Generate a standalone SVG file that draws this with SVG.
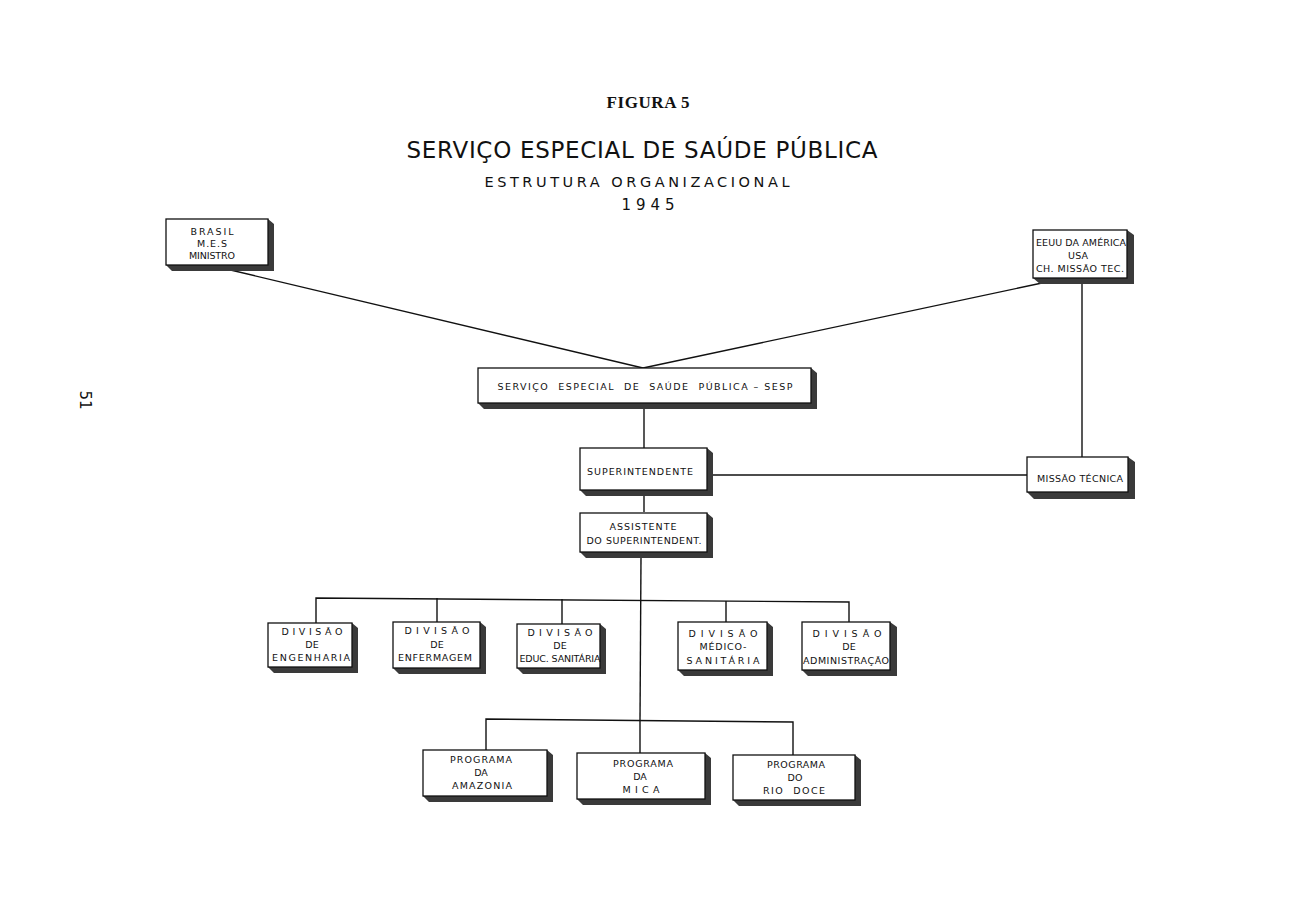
<svg xmlns="http://www.w3.org/2000/svg" width="1290" height="911" viewBox="0 0 1290 911" xml:space="preserve">
<style>
.box{fill:#fff;stroke:#111;stroke-width:1.3}
.sh{fill:#3a3a3a}
.t{font-family:"DejaVu Sans","Liberation Sans",sans-serif;font-size:9.5px;fill:#111;text-anchor:middle;white-space:pre}
.ln{stroke:#111;stroke-width:1.4;fill:none}
</style>
<rect width="1290" height="911" fill="#fff"/>
<text x="648" y="108" font-family="Liberation Serif, serif" font-weight="bold" font-size="17" text-anchor="middle" fill="#111" textLength="83">FIGURA 5</text>
<text x="642" y="158" font-family="DejaVu Sans, sans-serif" font-size="23" text-anchor="middle" fill="#111" textLength="471">SERVIÇO ESPECIAL DE SAÚDE PÚBLICA</text>
<text x="637" y="187" font-family="DejaVu Sans, sans-serif" font-size="14.5" text-anchor="middle" fill="#111" textLength="305">ESTRUTURA  ORGANIZACIONAL</text>
<text x="648" y="210" font-family="DejaVu Sans, sans-serif" font-size="15" text-anchor="middle" fill="#111" textLength="53">1945</text>
<text x="80" y="400" transform="rotate(90 80 400)" font-family="DejaVu Sans, sans-serif" font-size="15" text-anchor="middle" fill="#111">51</text>

<g id="connectors">
<line class="ln" x1="222" y1="268" x2="643" y2="368"/>
<line class="ln" x1="1042" y1="283" x2="643" y2="368"/>
<line class="ln" x1="1082" y1="283" x2="1082" y2="457"/>
<line class="ln" x1="644" y1="408" x2="644" y2="448"/>
<line class="ln" x1="712" y1="475" x2="1027" y2="475"/>
<line class="ln" x1="644" y1="495" x2="644" y2="512"/>
<line class="ln" x1="641" y1="557" x2="640" y2="720"/>
<polyline class="ln" points="316,623 316,598 849,602 849,622"/>
<line class="ln" x1="437" y1="598" x2="437" y2="622"/>
<line class="ln" x1="562" y1="599" x2="562" y2="624"/>
<line class="ln" x1="726" y1="601" x2="726" y2="622"/>
<polyline class="ln" points="486,750 486,719 793,722 793,755"/>
<line class="ln" x1="640" y1="720" x2="640" y2="753"/>
</g>

<g id="brasil"><polygon class="sh" points="268,219 274,224 274,271 172,271 166,265 268,265"/><rect class="box" x="166" y="219" width="102" height="46"/>
<text class="t" x="212" y="235" textLength="43">BRASIL</text><text class="t" x="212" y="247" textLength="30">M.E.S</text><text class="t" x="212" y="259" textLength="46">MINISTRO</text></g>

<g id="eeuu"><polygon class="sh" points="1127,230 1134,235 1134,284 1040,284 1033,278 1127,278"/><rect class="box" x="1033" y="230" width="94" height="48"/>
<text class="t" x="1081" y="246" textLength="90">EEUU DA AMÉRICA</text><text class="t" x="1078" y="259" textLength="20">USA</text><text class="t" x="1080" y="272" textLength="88">CH. MISSÃO TEC.</text></g>

<g id="sesp"><polygon class="sh" points="811,368 817,373 817,409 484,409 478,403 811,403"/><rect class="box" x="478" y="368" width="333" height="35"/>
<text class="t" x="645" y="390" textLength="295">SERVIÇO  ESPECIAL  DE  SAÚDE  PÚBLICA – SESP</text></g>

<g id="superintendente"><polygon class="sh" points="707,448 713,453 713,496 586,496 580,490 707,490"/><rect class="box" x="580" y="448" width="127" height="42"/>
<text class="t" x="640" y="475" textLength="106">SUPERINTENDENTE</text></g>

<g id="assistente"><polygon class="sh" points="707,513 713,518 713,558 586,558 580,552 707,552"/><rect class="box" x="580" y="513" width="127" height="39"/>
<text class="t" x="643" y="530" textLength="67">ASSISTENTE</text><text class="t" x="644" y="544" textLength="115">DO SUPERINTENDENT.</text></g>

<g id="missao"><polygon class="sh" points="1128,457 1135,462 1135,499 1034,499 1027,492 1128,492"/><rect class="box" x="1027" y="457" width="101" height="35"/>
<text class="t" x="1080" y="482" textLength="86">MISSÃO TÉCNICA</text></g>

<g id="div-engenharia"><polygon class="sh" points="352,623 358,628 358,673 274,673 268,667 352,667"/><rect class="box" x="268" y="623" width="84" height="44"/>
<text class="t" x="312" y="635" textLength="61">DIVISÃO</text><text class="t" x="312" y="648">DE</text><text class="t" x="311" y="661" textLength="78">ENGENHARIA</text></g>

<g id="div-enfermagem"><polygon class="sh" points="480,622 486,627 486,674 399,674 393,668 480,668"/><rect class="box" x="393" y="622" width="87" height="46"/>
<text class="t" x="437" y="634" textLength="65">DIVISÃO</text><text class="t" x="437" y="648">DE</text><text class="t" x="435" y="661" textLength="74">ENFERMAGEM</text></g>

<g id="div-educ"><polygon class="sh" points="600,624 606,629 606,674 523,674 517,668 600,668"/><rect class="box" x="517" y="624" width="83" height="44"/>
<text class="t" x="560" y="636" textLength="65">DIVISÃO</text><text class="t" x="560" y="649">DE</text><text class="t" x="560" y="662" textLength="81">EDUC. SANITÁRIA</text></g>

<g id="div-medico"><polygon class="sh" points="767,622 773,627 773,676 684,676 678,670 767,670"/><rect class="box" x="678" y="622" width="89" height="48"/>
<text class="t" x="723" y="637" textLength="69">DIVISÃO</text><text class="t" x="723" y="650" textLength="47">MÉDICO-</text><text class="t" x="723" y="664" textLength="73">SANITÁRIA</text></g>

<g id="div-administracao"><polygon class="sh" points="890,622 897,627 897,676 808,676 802,670 890,670"/><rect class="box" x="802" y="622" width="88" height="48"/>
<text class="t" x="847" y="637" textLength="69">DIVISÃO</text><text class="t" x="849" y="650">DE</text><text class="t" x="846" y="664" textLength="86">ADMINISTRAÇÃO</text></g>

<g id="prog-amazonia"><polygon class="sh" points="547,750 553,755 553,802 429,802 423,796 547,796"/><rect class="box" x="423" y="750" width="124" height="46"/>
<text class="t" x="481" y="763" textLength="62">PROGRAMA</text><text class="t" x="481" y="776">DA</text><text class="t" x="482" y="789" textLength="60">AMAZONIA</text></g>

<g id="prog-mica"><polygon class="sh" points="705,753 711,758 711,805 583,805 577,799 705,799"/><rect class="box" x="577" y="753" width="128" height="46"/>
<text class="t" x="643" y="767" textLength="60">PROGRAMA</text><text class="t" x="640" y="780">DA</text><text class="t" x="641" y="793" textLength="37">MICA</text></g>

<g id="prog-riodoce"><polygon class="sh" points="855,755 861,760 861,806 739,806 733,800 855,800"/><rect class="box" x="733" y="755" width="122" height="45"/>
<text class="t" x="796" y="768" textLength="58">PROGRAMA</text><text class="t" x="795" y="781">DO</text><text class="t" x="794" y="794" textLength="62">RIO  DOCE</text></g>
</svg>
